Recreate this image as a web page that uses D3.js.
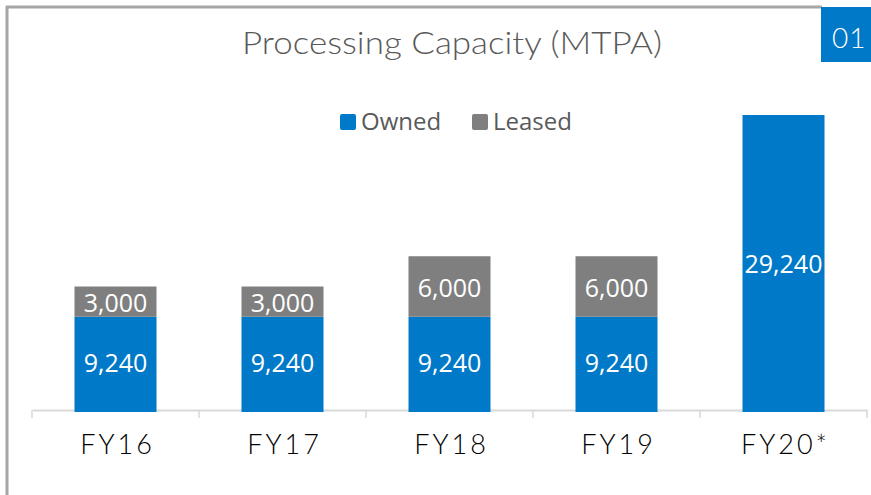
<!DOCTYPE html>
<html>
<head>
<meta charset="utf-8">
<script src="https://cdn.jsdelivr.net/npm/d3@7"></script>
<style>
  body { margin: 0; background: #fff; }
  svg { display: block; }
</style>
</head>
<body>
<div id="chart"></div>
<script>
var years = ["FY16", "FY17", "FY18", "FY19", "FY20*"];
var owned = [9240, 9240, 9240, 9240, 29240];
var leased = [3000, 3000, 6000, 6000, 0];
var seriesNames = ["Owned", "Leased"];

var width = 871, height = 495;
var blue = "#0079c8", grey = "#7f7f7f";
var fmt = d3.format(",");

var svg = d3.select("#chart").append("svg")
  .attr("width", width)
  .attr("height", height);

// frame lines (top + left)
svg.append("line").attr("x1", 6).attr("x2", 822).attr("y1", 7).attr("y2", 7)
  .attr("stroke", "#a6a6a6").attr("stroke-width", 3);
svg.append("line").attr("x1", 7).attr("x2", 7).attr("y1", 6).attr("y2", height)
  .attr("stroke", "#a6a6a6").attr("stroke-width", 3);

// number tag
svg.append("rect").attr("x", 821).attr("y", 7).attr("width", 50).attr("height", 55).attr("fill", blue);
svg.append("text").attr("x", 832).attr("y", 48).text("01")
  .attr("fill", "#fff").style("font-family", "Lato, sans-serif").style("font-size", "28px")
  .style("font-weight", 300).style("letter-spacing", "1px");

// title
svg.append("text").attr("x", 452).attr("y", 54).attr("text-anchor", "middle")
  .text("Processing Capacity (MTPA)")
  .attr("fill", "#595959")
  .style("font-family", "Lato, sans-serif").style("font-size", "31px").style("font-weight", 300)
  .attr("textLength", 420).attr("lengthAdjust", "spacingAndGlyphs");

// legend
var legend = svg.append("g");
var legX = [340, 472];
seriesNames.forEach(function (name, i) {
  legend.append("rect").attr("x", legX[i]).attr("y", 114).attr("width", 16).attr("height", 16)
    .attr("rx", 2).attr("fill", i == 0 ? blue : grey);
  legend.append("text").attr("x", legX[i] + 21).attr("y", 130).text(name)
    .attr("fill", "#595959")
    .style("font-family", "Open Sans, sans-serif").style("font-size", "24px");
});

var x = d3.scaleBand().domain(years).range([32, 867]).paddingInner(0).paddingOuter(0);
var y = d3.scaleLinear().domain([0, 29240]).range([410, 115]);
var barW = 82;

var data = years.map(function (yr, i) {
  return { year: yr, owned: owned[i], leased: leased[i] };
});

// axis
var axis = svg.append("g").attr("transform", "translate(0,410)")
  .call(d3.axisBottom(x).tickSize(0).tickFormat(""));
axis.select(".domain").attr("stroke", "#d9d9d9").attr("stroke-width", 2);
axis.selectAll(".tick").remove();
var bounds = x.domain().map(function (d) { return x(d); }).concat([x(years[years.length - 1]) + x.bandwidth()]);
axis.selectAll("line.sep").data(bounds).enter().append("line")
  .attr("class", "sep")
  .attr("x1", function (d) { return d; }).attr("x2", function (d) { return d; })
  .attr("y1", 0).attr("y2", 8)
  .attr("stroke", "#d9d9d9").attr("stroke-width", 1.5);

var bars = svg.append("g");
bars.selectAll("rect.owned").data(data).enter().append("rect")
  .attr("class", "owned")
  .attr("x", function (d) { return x(d.year) + x.bandwidth() / 2 - barW / 2; })
  .attr("width", barW)
  .attr("y", function (d) { return y(d.owned); })
  .attr("height", function (d) { return y(0) - y(d.owned) + 2; })
  .attr("fill", blue);

bars.selectAll("rect.leased").data(data.filter(function (d) { return d.leased > 0; })).enter().append("rect")
  .attr("class", "leased")
  .attr("x", function (d) { return x(d.year) + x.bandwidth() / 2 - barW / 2; })
  .attr("width", barW)
  .attr("y", function (d) { return y(d.owned + d.leased); })
  .attr("height", function (d) { return y(d.owned) - y(d.owned + d.leased); })
  .attr("fill", grey);

// value labels
var labelStyle = function (sel) {
  sel.attr("text-anchor", "middle").attr("dominant-baseline", "central")
    .attr("fill", "#fff")
    .style("font-family", "Open Sans, sans-serif").style("font-size", "25px");
};
bars.selectAll("text.ownedLbl").data(data).enter().append("text")
  .attr("class", "ownedLbl")
  .attr("x", function (d) { return x(d.year) + x.bandwidth() / 2; })
  .attr("y", function (d) { return d.leased > 0 ? 362 : (y(d.owned) + y(0)) / 2; })
  .text(function (d) { return fmt(d.owned); })
  .call(labelStyle);
bars.selectAll("text.leasedLbl").data(data.filter(function (d) { return d.leased > 0; })).enter().append("text")
  .attr("class", "leasedLbl")
  .attr("x", function (d) { return x(d.year) + x.bandwidth() / 2; })
  .attr("y", function (d) { return (y(d.owned) + y(d.owned + d.leased)) / 2; })
  .text(function (d) { return fmt(d.leased); })
  .call(labelStyle);

// category labels
svg.append("g").selectAll("text").data(years).enter().append("text")
  .attr("x", function (d) { return x(d) + x.bandwidth() / 2 + 2; })
  .attr("y", 454)
  .attr("text-anchor", "middle")
  .text(function (d) { return d; })
  .attr("fill", "#000")
  .style("font-family", "Lato, sans-serif").style("font-size", "27px").style("font-weight", 300)
  .style("letter-spacing", "3px");
</script>
</body>
</html>
